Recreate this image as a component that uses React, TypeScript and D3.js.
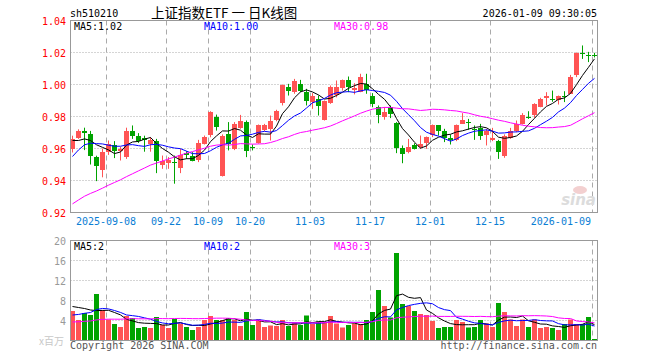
import { useEffect, useRef } from 'react'
import * as d3 from 'd3'

// 交易日
const dates = [
  '2025-08-29',
  '2025-09-01', '2025-09-02', '2025-09-03', '2025-09-04', '2025-09-05',
  '2025-09-08', '2025-09-09', '2025-09-10', '2025-09-11', '2025-09-12',
  '2025-09-15', '2025-09-16', '2025-09-17', '2025-09-18', '2025-09-19',
  '2025-09-22', '2025-09-23', '2025-09-24', '2025-09-25', '2025-09-26',
  '2025-09-29', '2025-09-30',
  '2025-10-09', '2025-10-10',
  '2025-10-13', '2025-10-14', '2025-10-15', '2025-10-16', '2025-10-17',
  '2025-10-20', '2025-10-21', '2025-10-22', '2025-10-23', '2025-10-24',
  '2025-10-27', '2025-10-28', '2025-10-29', '2025-10-30', '2025-10-31',
  '2025-11-03', '2025-11-04', '2025-11-05', '2025-11-06', '2025-11-07',
  '2025-11-10', '2025-11-11', '2025-11-12', '2025-11-13', '2025-11-14',
  '2025-11-17', '2025-11-18', '2025-11-19', '2025-11-20', '2025-11-21',
  '2025-11-24', '2025-11-25', '2025-11-26', '2025-11-27', '2025-11-28',
  '2025-12-01', '2025-12-02', '2025-12-03', '2025-12-04', '2025-12-05',
  '2025-12-08', '2025-12-09', '2025-12-10', '2025-12-11', '2025-12-12',
  '2025-12-15', '2025-12-16', '2025-12-17', '2025-12-18', '2025-12-19',
  '2025-12-22', '2025-12-23', '2025-12-24', '2025-12-25', '2025-12-26',
  '2025-12-29', '2025-12-30', '2025-12-31',
  '2026-01-05', '2026-01-06', '2026-01-07', '2026-01-08', '2026-01-09',
]

const opens = [
  0.960, 0.9667, 0.971, 0.969, 0.955, 0.9465, 0.958, 0.9625, 0.9585, 0.955,
  0.9712, 0.968, 0.9667, 0.963, 0.9646, 0.950, 0.9513, 0.9515, 0.9477, 0.9571,
  0.9556, 0.9525, 0.9629, 0.9681, 0.9796, 0.9431, 0.9692, 0.960, 0.973, 0.9765,
  0.9608, 0.9633, 0.9712, 0.9723, 0.9775, 0.9879, 0.9983, 0.9958, 1.0004, 0.9952,
  0.989, 0.991, 0.9779, 0.9883, 0.9931, 0.9983, 1.0029, 0.9967, 0.9958, 1.0004,
  0.9931, 0.9862, 0.9796, 0.9858, 0.9758, 0.9602, 0.9583, 0.9625, 0.9613, 0.9633,
  0.9681, 0.9744, 0.9708, 0.9665, 0.965, 0.9754, 0.9767, 0.9723, 0.9729, 0.9681,
  0.965, 0.965, 0.9556, 0.9667, 0.9708, 0.9754, 0.9798, 0.9806, 0.9862, 0.991,
  0.991, 0.990, 0.9925, 0.9946, 1.006, 1.0198, 1.0183, 1.0185,
]
const highs = [
  0.968, 0.972, 0.973, 0.971, 0.9555, 0.960, 0.965, 0.9646, 0.961, 0.973,
  0.9744, 0.9696, 0.968, 0.967, 0.966, 0.9556, 0.9546, 0.9556, 0.9598, 0.9583,
  0.9577, 0.9654, 0.9681, 0.9833, 0.9812, 0.9688, 0.9765, 0.9765, 0.981, 0.9775,
  0.9625, 0.975, 0.9754, 0.9806, 0.9842, 1.000, 1.0004, 1.0035, 1.0029, 0.9973,
  0.9946, 0.9931, 0.990, 0.9994, 1.0025, 1.0031, 1.005, 1.0008, 1.0067, 1.0067,
  0.9946, 0.9869, 0.9858, 0.9869, 0.9765, 0.9619, 0.966, 0.9633, 0.9681, 0.9675,
  0.975, 0.9744, 0.9723, 0.9688, 0.975, 0.9821, 0.9785, 0.9744, 0.9754, 0.9723,
  0.9729, 0.9654, 0.9688, 0.9729, 0.9775, 0.9821, 0.9833, 0.9883, 0.9917, 0.9952,
  0.9962, 0.9931, 0.9958, 1.006, 1.020, 1.0244, 1.0204, 1.0198,
]
const lows = [
  0.9575, 0.966, 0.959, 0.950, 0.9396, 0.942, 0.956, 0.954, 0.9525, 0.9535,
  0.966, 0.9635, 0.958, 0.958, 0.9446, 0.9473, 0.9473, 0.938, 0.9446, 0.9535,
  0.952, 0.9515, 0.9625, 0.967, 0.9712, 0.9425, 0.9588, 0.959, 0.9723, 0.9546,
  0.9588, 0.963, 0.9708, 0.965, 0.977, 0.9869, 0.9931, 0.9942, 0.9952, 0.9869,
  0.9848, 0.9806, 0.9775, 0.9879, 0.992, 0.9962, 0.9952, 0.9938, 0.9952, 0.9942,
  0.9858, 0.9758, 0.978, 0.979, 0.9571, 0.9508, 0.957, 0.9594, 0.9598, 0.9598,
  0.9671, 0.9681, 0.964, 0.9625, 0.9646, 0.9754, 0.9717, 0.9654, 0.9654, 0.9619,
  0.9646, 0.9535, 0.9542, 0.966, 0.9702, 0.975, 0.9785, 0.9792, 0.9858, 0.9869,
  0.9892, 0.9875, 0.989, 0.9942, 1.0046, 1.016, 1.014, 1.0169,
]
const closes = [
  0.966, 0.971, 0.970, 0.955, 0.9496, 0.958, 0.963, 0.9585, 0.960, 0.971,
  0.968, 0.9646, 0.9655, 0.9654, 0.952, 0.9525, 0.953, 0.951, 0.956, 0.9556,
  0.9525, 0.9633, 0.9675, 0.9827, 0.9733, 0.9681, 0.9629, 0.9754, 0.9775, 0.9583,
  0.9604, 0.9744, 0.9744, 0.9775, 0.9833, 0.9994, 0.9958, 1.0025, 0.9958, 0.9896,
  0.993, 0.9865, 0.9896, 0.9983, 0.9983, 1.0031, 0.9988, 0.9979, 1.005, 0.9967,
  0.9883, 0.9812, 0.9827, 0.9812, 0.9604, 0.9567, 0.9612, 0.960, 0.9629, 0.9671,
  0.9744, 0.9708, 0.9667, 0.9655, 0.9744, 0.9779, 0.9762, 0.9717, 0.9681, 0.9708,
  0.9665, 0.9583, 0.9681, 0.9708, 0.9754, 0.9812, 0.9794, 0.9875, 0.991, 0.9925,
  0.9904, 0.9925, 0.9917, 1.005, 1.020, 1.0192, 1.0179, 1.0181,
]
// 成交量(百万)
const volumes = [
  5.9, 4.1, 5.5, 5.1, 9.3, 6.1, 4.2, 3.3, 2.7, 4.9,
  4.5, 2.5, 2.7, 2.5, 4.7, 3.1, 2.5, 4.3, 3.4, 2.7,
  2.1, 2.7, 4.1, 4.9, 4.1, 4.1, 4.5, 4.1, 2.9, 5.7,
  3.1, 4.2, 2.7, 3.0, 2.9, 4.1, 2.9, 3.6, 3.1, 5.0,
  3.3, 3.8, 3.7, 4.9, 3.4, 2.6, 3.1, 3.4, 3.3, 4.1,
  5.7, 10.1, 6.9, 4.6, 17.5, 7.3, 6.9, 5.9, 5.3, 5.1,
  3.9, 2.5, 2.7, 2.7, 4.1, 3.7, 2.6, 2.7, 4.1, 3.4,
  2.7, 7.5, 5.7, 4.2, 2.9, 4.2, 2.7, 4.2, 2.5, 2.7,
  2.5, 2.1, 3.3, 4.2, 3.3, 3.3, 4.7, 0.3,
]

// 可见区间之前的收盘价/成交量, 只用于均线
const priorCloses = [
  0.898, 0.900, 0.902, 0.904, 0.905, 0.907, 0.908, 0.910, 0.912, 0.914,
  0.910, 0.912, 0.911, 0.913, 0.915, 0.914, 0.916, 0.918, 0.920, 0.923,
  0.930, 0.938, 0.945, 0.952, 0.960, 0.971, 0.965, 0.960, 0.963,
]
const priorVolumes = [
  2.6, 2.8, 3.2, 2.9, 3.1, 2.7, 3.4, 3.0, 2.8, 3.3,
  2.9, 3.1, 3.0, 2.7, 3.2, 3.0, 3.3, 2.9, 3.1, 3.0,
  3.0, 3.2, 3.5, 3.4, 3.9, 5.1, 6.5, 6.6, 9.9,
]

const tickDates = ['2025-09-08', '2025-09-22', '2025-10-09', '2025-10-20', '2025-11-03', '2025-11-17', '2025-12-01', '2025-12-15', '2026-01-09']
const tickLabels = ['2025-09-08', '09-22', '10-09', '10-20', '11-03', '11-17', '12-01', '12-15', '2026-01-09']
const priceTicks = [0.92, 0.94, 0.96, 0.98, 1.00, 1.02, 1.04]
const volumeTicks = [4, 8, 12, 16, 20]

const maPeriods = [5, 10, 30]
const maColors = ['#000000', '#0000ff', '#ff00ff']
const priceLegend = ['MA5:1.02', 'MA10:1.00', 'MA30:0.98']
const volumeLegend = ['MA5:2', 'MA10:2', 'MA30:3']

const movingAverage = (prior: number[], values: number[], n: number) => {
  const all = prior.concat(values)
  return values.map((_, i) => d3.mean(all.slice(prior.length + i - n + 1, prior.length + i + 1)) as number)
}

const mono = "'DejaVu Sans Mono', monospace"

export default function App() {
  const ref = useRef<SVGSVGElement>(null)

  useEffect(() => {
    const width = 660
    const height = 360
    const left = 70.5
    const right = 597.5

    const svg = d3.select(ref.current)
    svg.selectAll('*').remove()
    svg.attr('width', width)
      .attr('height', height)
      .attr('viewBox', [0, 0, width, height])
      .style('position', 'absolute')
      .style('left', '0px')
      .style('top', '0px')
      .style('background', '#fff')

    // scales
    const x = d3.scaleBand<string>()
      .domain(dates)
      .range([69.5, 597.5])
      .paddingInner(1 / 6)
      .paddingOuter(1 / 12)
    const cx = (d: string) => (x(d) as number) + 2.5

    const y = d3.scaleLinear().domain([0.92, 1.04]).range([212.5, 20.5])
    const yv = d3.scaleLinear().domain([0, 20]).range([340.5, 240.5])

    const up = (i: number) => closes[i] >= opens[i]
    const red = '#ff5454'
    const green = '#00a300'

    // header
    svg.append('text').attr('x', 70).attr('y', 17)
      .attr('font-family', mono).attr('font-size', 10).attr('fill', '#000')
      .text('sh510210')
    svg.append('text').attr('x', 151).attr('y', 18)
      .attr('font-family', "'Noto Sans CJK SC', sans-serif").attr('font-size', 13.5).attr('fill', '#000')
      .text('上证指数ETF 一 日K线图')
    svg.append('text').attr('x', 597).attr('y', 17).attr('text-anchor', 'end')
      .attr('font-family', mono).attr('font-size', 10).attr('fill', '#000')
      .text('2026-01-09 09:30:05')

    // grid
    const grid = svg.append('g')
    grid.selectAll('.hp')
      .data(priceTicks.slice(1, -1))
      .join('line')
      .attr('x1', left).attr('x2', right)
      .attr('y1', d => y(d)).attr('y2', d => y(d))
      .attr('stroke', '#aaa').attr('stroke-dasharray', '1,2')
    grid.selectAll('.hv')
      .data(volumeTicks.slice(0, -1))
      .join('line')
      .attr('x1', left).attr('x2', right)
      .attr('y1', d => yv(d)).attr('y2', d => yv(d))
      .attr('stroke', '#aaa').attr('stroke-dasharray', '1,2')
    tickDates.forEach(d => {
      const xx = (x(d) as number) + 0.5
      grid.append('line').attr('x1', xx).attr('x2', xx).attr('y1', 20.5).attr('y2', 212.5)
        .attr('stroke', '#aaa').attr('stroke-dasharray', '5,4')
      grid.append('line').attr('x1', xx).attr('x2', xx).attr('y1', 240.5).attr('y2', 340.5)
        .attr('stroke', '#aaa').attr('stroke-dasharray', '5,4')
    })

    // watermark
    svg.append('ellipse').attr('cx', 580).attr('cy', 190).attr('rx', 7).attr('ry', 4)
      .attr('fill', '#f3d0d0')
    svg.append('text').attr('x', 596).attr('y', 205).attr('text-anchor', 'end')
      .attr('font-family', "'DejaVu Sans', sans-serif").attr('font-size', 15)
      .attr('font-style', 'italic').attr('font-weight', 'bold').attr('fill', '#dcdcdc')
      .text('sina')

    // candles
    const candles = svg.append('g')
    candles.selectAll('line')
      .data(dates)
      .join('line')
      .attr('x1', d => cx(d)).attr('x2', d => cx(d))
      .attr('y1', (d, i) => y(highs[i])).attr('y2', (d, i) => y(lows[i]))
      .attr('stroke', (d, i) => up(i) ? red : green)
    candles.selectAll('rect')
      .data(dates)
      .join('rect')
      .attr('x', d => x(d) as number)
      .attr('width', x.bandwidth())
      .attr('y', (d, i) => Math.round(y(Math.max(opens[i], closes[i]))))
      .attr('height', (d, i) => Math.max(1, Math.round(y(Math.min(opens[i], closes[i])) - y(Math.max(opens[i], closes[i])))))
      .attr('fill', (d, i) => up(i) ? red : green)

    // volume bars
    svg.append('g')
      .selectAll('rect')
      .data(dates)
      .join('rect')
      .attr('x', d => x(d) as number)
      .attr('width', x.bandwidth())
      .attr('y', (d, i) => yv(volumes[i]))
      .attr('height', (d, i) => yv(0) - yv(volumes[i]))
      .attr('fill', (d, i) => up(i) ? red : green)

    // moving averages
    maPeriods.forEach((n, k) => {
      const priceMa = movingAverage(priorCloses, closes, n)
      const volMa = movingAverage(priorVolumes, volumes, n)
      svg.append('path')
        .attr('d', d3.line<number>().x((v, i) => cx(dates[i])).y(v => y(v))(priceMa))
        .attr('fill', 'none').attr('stroke', maColors[k]).attr('stroke-width', 1)
      svg.append('path')
        .attr('d', d3.line<number>().x((v, i) => cx(dates[i])).y(v => yv(v))(volMa))
        .attr('fill', 'none').attr('stroke', maColors[k]).attr('stroke-width', 1)
    })

    // frames
    svg.append('rect').attr('x', left).attr('y', 20.5).attr('width', right - left).attr('height', 192)
      .attr('fill', 'none').attr('stroke', '#999')
    svg.append('rect').attr('x', left).attr('y', 240.5).attr('width', right - left).attr('height', 100)
      .attr('fill', 'none').attr('stroke', '#999')

    // legends
    const legendX = [74, 204, 334]
    priceLegend.forEach((t, k) => {
      svg.append('text').attr('x', legendX[k]).attr('y', 30)
        .attr('font-family', mono).attr('font-size', 10).attr('fill', maColors[k]).text(t)
    })
    volumeLegend.forEach((t, k) => {
      svg.append('text').attr('x', legendX[k]).attr('y', 250)
        .attr('font-family', mono).attr('font-size', 10).attr('fill', maColors[k]).text(t)
    })

    // price axis
    svg.append('g')
      .selectAll('text')
      .data(priceTicks)
      .join('text')
      .attr('x', 66).attr('y', d => y(d) + 4)
      .attr('text-anchor', 'end')
      .attr('font-family', mono).attr('font-size', 10).attr('fill', '#ff0000')
      .text(d => d.toFixed(2))

    // volume axis
    svg.append('g')
      .selectAll('text')
      .data(volumeTicks)
      .join('text')
      .attr('x', 66).attr('y', d => yv(d) + 4)
      .attr('text-anchor', 'end')
      .attr('font-family', mono).attr('font-size', 10).attr('fill', '#999')
      .text(d => d)
    svg.append('text').attr('x', 64).attr('y', 345).attr('text-anchor', 'end')
      .attr('font-family', "'Noto Sans CJK SC', sans-serif").attr('font-size', 10).attr('fill', '#c8c8c8')
      .text('x百万')

    // date axis
    svg.append('g')
      .selectAll('text')
      .data(tickDates)
      .join('text')
      .attr('x', (d, i) => i === tickDates.length - 1 ? 591 : (x(d) as number))
      .attr('y', 225)
      .attr('text-anchor', (d, i) => i === tickDates.length - 1 ? 'end' : 'middle')
      .attr('font-family', mono).attr('font-size', 10).attr('fill', '#0a7ed4')
      .text((d, i) => tickLabels[i])

    // footer
    svg.append('text').attr('x', 70).attr('y', 349)
      .attr('font-family', mono).attr('font-size', 10).attr('fill', '#555')
      .text('Copyright 2026 SINA.COM')
    svg.append('text').attr('x', 597).attr('y', 349).attr('text-anchor', 'end')
      .attr('font-family', mono).attr('font-size', 10).attr('fill', '#555')
      .text('http://finance.sina.com.cn')
  }, [])

  return <svg ref={ref} />
}
